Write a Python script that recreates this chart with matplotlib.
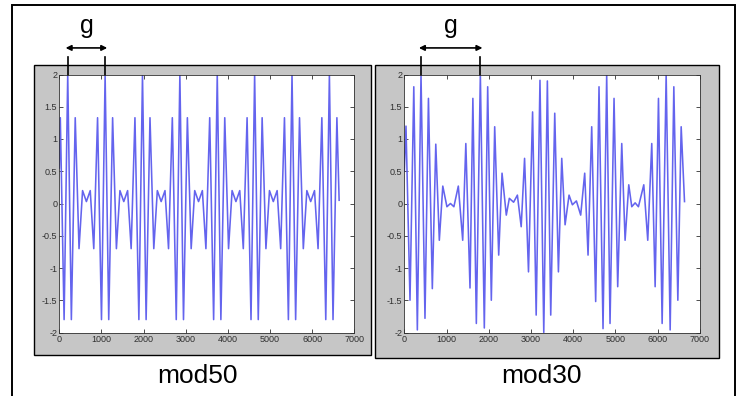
import matplotlib
matplotlib.use("Agg")
import matplotlib.pyplot as plt
from matplotlib.patches import Rectangle
from matplotlib.transforms import blended_transform_factory

# turning points of the two modulated signals: sample index / amplitude
mod50_x = [0, 24, 114, 200, 286, 378, 468, 552, 643, 734, 818, 908, 1001,
           1087, 1173, 1265, 1355, 1439, 1530, 1621, 1705, 1795, 1888,
           1974, 2060, 2152, 2242, 2326, 2417, 2508, 2592, 2682, 2775,
           2861, 2947, 3039, 3129, 3213, 3304, 3395, 3479, 3569, 3662,
           3748, 3834, 3926, 4016, 4100, 4191, 4282, 4366, 4456, 4549,
           4635, 4721, 4813, 4903, 4987, 5078, 5169, 5253, 5343, 5436,
           5522, 5608, 5700, 5790, 5874, 5965, 6056, 6140, 6230, 6323,
           6409, 6495, 6587, 6640]
mod50_y = [0.55, 1.33, -1.8, 2.0, -1.8, 1.33, -0.7, 0.2, 0.03, 0.2, -0.7, 1.33, -1.8,
           2.0, -1.8, 1.33, -0.7, 0.2, 0.03, 0.2, -0.7, 1.33, -1.8,
           2.0, -1.8, 1.33, -0.7, 0.2, 0.03, 0.2, -0.7, 1.33, -1.8,
           2.0, -1.8, 1.33, -0.7, 0.2, 0.03, 0.2, -0.7, 1.33, -1.8,
           2.0, -1.8, 1.33, -0.7, 0.2, 0.03, 0.2, -0.7, 1.33, -1.8,
           2.0, -1.8, 1.33, -0.7, 0.2, 0.03, 0.2, -0.7, 1.33, -1.8,
           2.0, -1.8, 1.33, -0.7, 0.2, 0.03, 0.2, -0.7, 1.33, -1.8,
           2.0, -1.8, 1.33, 0.05]

mod30_x = [0, 40, 135, 225, 309, 396, 490, 572, 664, 746, 830, 912, 1010,
           1094, 1175, 1280, 1384, 1458, 1557, 1625, 1707, 1802, 1896,
           1976, 2062, 2142, 2237, 2316, 2417, 2489, 2590, 2680, 2770,
           2850, 2943, 3040, 3125, 3215, 3305, 3390, 3470, 3565, 3652,
           3731, 3810, 3904, 3983, 4078, 4180, 4275, 4354, 4441, 4535,
           4614, 4709, 4796, 4875, 4970, 5057, 5153, 5232, 5319, 5390,
           5470, 5548, 5675, 5769, 5864, 5944, 6023, 6110, 6205, 6300,
           6387, 6482, 6561, 6640]
mod30_y = [0.5, 1.2, -1.5, 1.81, -1.96, 2.0, -1.78, 1.63, -1.32, 0.92, -0.57, 0.27, -0.05,
           0.0, -0.05, 0.27, -0.57, 0.93, -1.31, 1.63, -1.86, 2.0, -1.93,
           1.81, -1.5, 1.19, -0.8, 0.47, -0.18, 0.08, 0.02, 0.13, -0.36,
           0.7, -1.06, 1.42, -1.73, 1.91, -2.0, 1.9, -1.73, 1.4, -1.06,
           0.7, -0.33, 0.13, -0.02, 0.04, -0.18, 0.47, -0.8, 1.19, -1.52,
           1.81, -1.94, 2.0, -1.86, 1.63, -1.29, 0.93, -0.57, 0.29, -0.05,
           0.01, -0.05, 0.29, -0.57, 0.93, -1.29, 1.63, -1.86, 2.0, -1.96,
           1.81, -1.5, 1.19, 0.03]

x_ticks = [0, 1000, 2000, 3000, 4000, 5000, 6000, 7000]
y_ticks = [-2, -1.5, -1, -0.5, 0, 0.5, 1, 1.5, 2]
y_tick_labels = ["-2", "-1.5", "-1", "-0.5", "0", "0.5", "1", "1.5", "2"]
panel_titles = ["mod50", "mod30"]
gap_label = "g"

W, H = 745, 396
FONT = ["Liberation Sans", "DejaVu Sans"]
LINE_COLOR = "#6464ee"
PANEL_GRAY = "#c6c6c6"

fig = plt.figure(figsize=(W / 100, H / 100), dpi=100)
fig.patch.set_facecolor("white")


def box(x0, y0, x1, y1):
    # pixel box measured from the top-left corner -> figure fraction rect
    return (x0 / W, 1 - y1 / H, (x1 - x0) / W, (y1 - y0) / H)


# outer frame around both panels
fx, fy, fw, fh = box(12, 5, 735, 402)
fig.patches.append(Rectangle((fx, fy), fw, fh, transform=fig.transFigure,
                             facecolor="none", edgecolor="black", lw=1.4,
                             zorder=-2))

panels = [(34, 65, 371, 355), (375, 65, 719, 358)]
axes_boxes = [(59.3, 74.5, 354.3, 332.5), (404.3, 74.5, 699.7, 332.5)]
title_x = [197, 541.5]
series = [(mod50_x, mod50_y), (mod30_x, mod30_y)]

for i in range(2):
    px, py, pw, ph = box(*panels[i])
    fig.patches.append(Rectangle((px, py), pw, ph, transform=fig.transFigure,
                                 facecolor=PANEL_GRAY, edgecolor="black", lw=1.0,
                                 zorder=-1))

    ax = fig.add_axes(box(*axes_boxes[i]))
    xs, ys = series[i]
    ax.plot(xs, ys, color=LINE_COLOR, lw=1.15)
    ax.set_xlim(0, 7000)
    ax.set_ylim(-2, 2)
    ax.set_xticks(x_ticks)
    ax.set_xticklabels([str(t) for t in x_ticks])
    ax.set_yticks(y_ticks)
    ax.set_yticklabels(y_tick_labels)
    ax.tick_params(direction="in", length=3, width=0.6, top=True, right=True,
                   labelsize=6.5, pad=1.5, colors="#303030")
    for lab in ax.get_xticklabels() + ax.get_yticklabels():
        lab.set_family(FONT)
    for sp in ax.spines.values():
        sp.set_linewidth(0.6)
        sp.set_color("#303030")

    # gap marker between the first two full-height peaks
    peaks = [x for x, y in zip(xs, ys) if y >= 2.0][:2]
    tr = blended_transform_factory(ax.transData, ax.transAxes)
    for p in peaks:
        ax.plot([p, p], [1.0, 1.068], color="black", lw=1.2,
                transform=tr, clip_on=False)
    ax.annotate("", xy=(peaks[1] + 50, 1.103), xytext=(peaks[0] - 50, 1.103),
                xycoords=tr, textcoords=tr, annotation_clip=False,
                arrowprops=dict(arrowstyle="<|-|>", color="black", lw=1.2,
                                mutation_scale=8, shrinkA=0, shrinkB=0))
    ax.text((peaks[0] + peaks[1]) / 2, 1.161, gap_label, transform=tr,
            ha="center", va="baseline", fontsize=18, family=FONT)

    fig.text(title_x[i] / W, 1 - 383 / H, panel_titles[i], ha="center",
             va="baseline", fontsize=19, family=FONT)

fig.savefig("out.png", dpi=100)
